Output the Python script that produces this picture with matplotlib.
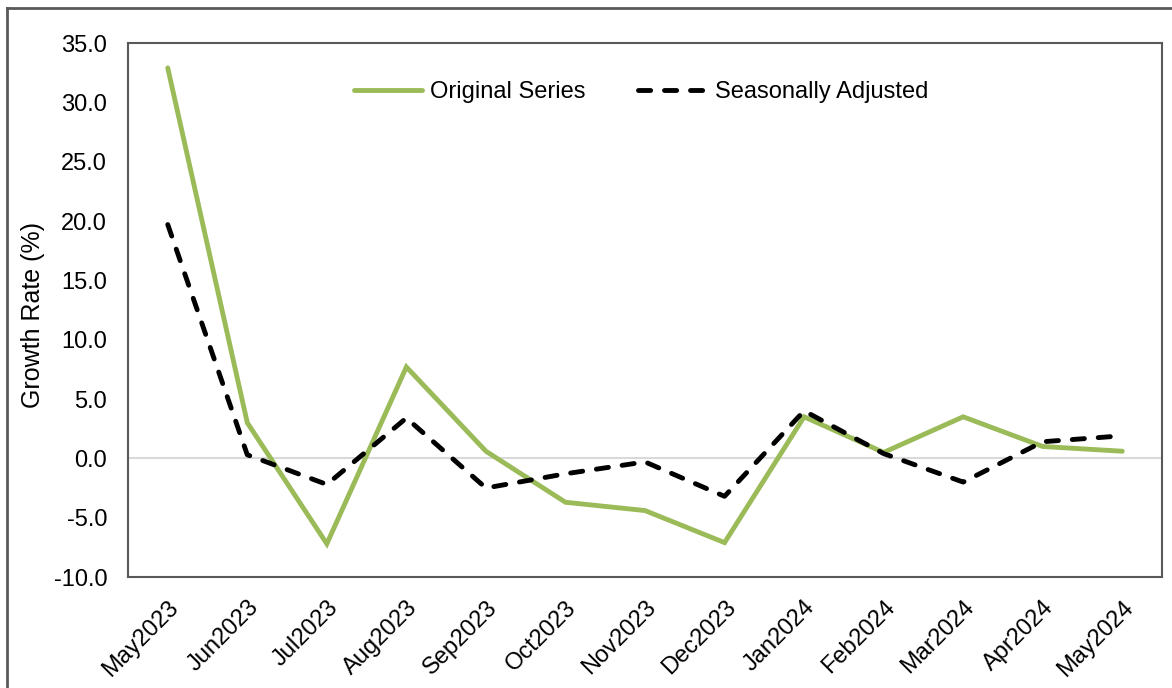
import matplotlib
matplotlib.use('Agg')
import matplotlib.pyplot as plt
from matplotlib.lines import Line2D

plt.rcParams['font.family'] = ['Liberation Sans', 'DejaVu Sans']

months = ['May2023', 'Jun2023', 'Jul2023', 'Aug2023', 'Sep2023', 'Oct2023', 'Nov2023',
          'Dec2023', 'Jan2024', 'Feb2024', 'Mar2024', 'Apr2024', 'May2024']
original = [32.9, 3.0, -7.2, 7.7, 0.6, -3.7, -4.4, -7.1, 3.5, 0.5, 3.5, 1.0, 0.6]
adjusted = [19.7, 0.3, -2.2, 3.4, -2.5, -1.3, -0.3, -3.2, 4.0, 0.4, -2.0, 1.4, 1.9]
yticks = [-10, -5, 0, 5, 10, 15, 20, 25, 30, 35]

fig = plt.figure(figsize=(11.72, 6.88), dpi=100)
ax = fig.add_axes([0.1092, 0.1613, 0.8823, 0.7762])

x = list(range(len(months)))
ax.axhline(0, color='#D9D9D9', linewidth=1.5, zorder=1)
ax.plot(x, original, color='#9BBB59', linewidth=3.5, solid_capstyle='round',
        solid_joinstyle='miter', label='Original Series', zorder=3)
ax.plot(x, adjusted, color='black', linewidth=3.5, linestyle=(0, (2.5, 2.85)),
        dash_capstyle='round', label='Seasonally Adjusted', zorder=4)

ax.set_xlim(-0.5, len(months) - 0.5)
ax.set_ylim(-10, 35)
ax.set_yticks(yticks)
ax.set_yticklabels([f'{v:.1f}' for v in yticks], fontsize=17)
ax.set_xticks(x)
ax.set_xticklabels(months, fontsize=17, rotation=45, ha='right', rotation_mode='anchor')
ax.tick_params(axis='y', length=0, pad=15)
ax.tick_params(axis='x', length=0, pad=14)
ax.set_ylabel('Growth Rate (%)', fontsize=18)
ax.yaxis.set_label_coords(-0.080, 0.49)

for s in ax.spines.values():
    s.set_color('#595959')
    s.set_linewidth(1.5)

ax.legend(loc='center', bbox_to_anchor=(0.496, 0.908), ncol=2, frameon=False,
          fontsize=17, handlelength=2.9, handletextpad=0.35, columnspacing=2.2)

# outer chart frame (only left and top edges visible)
fig.add_artist(Line2D([7 / 1172, 7 / 1172], [0, 1 - 8 / 688], transform=fig.transFigure,
                      color='#595959', linewidth=2))
fig.add_artist(Line2D([7 / 1172, 1], [1 - 8 / 688, 1 - 8 / 688], transform=fig.transFigure,
                      color='#595959', linewidth=2))

fig.savefig('out.png', dpi=100)
